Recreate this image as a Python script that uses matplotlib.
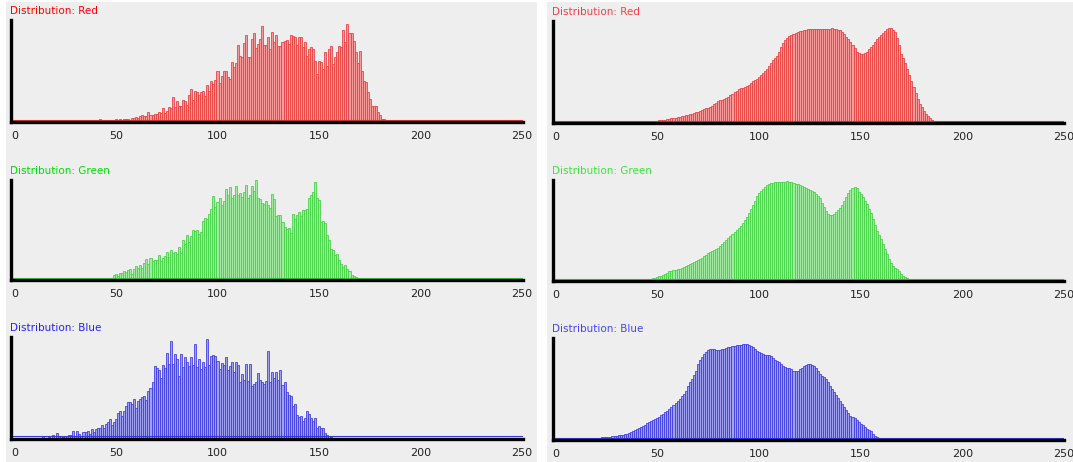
import matplotlib
matplotlib.use("Agg")
import matplotlib.pyplot as plt
from matplotlib.patches import Rectangle
import numpy as np

bins = list(range(256))
tick_values = [0, 50, 100, 150, 200, 250]

# ---- Left column (raw histograms) ----
red_raw = (
    [0, 0, 0, 0, 0, 0, 0, 0, 0, 0]
    + [0, 0, 0, 0, 0, 0, 0, 0, 0, 0]
    + [0, 0, 0, 0, 0, 0, 0, 1.5, 0, 0]
    + [0, 2, 0, 0, 0, 1, 2, 1, 0, 0]
    + [0, 0, 3, 1.5, 1, 0, 0, 1, 2, 1]
    + [2.5, 1.5, 3, 2, 3, 2.5, 3, 2, 3.5, 4]
    + [5, 4, 6, 7, 6, 6, 10, 7, 7, 8]
    + [8, 10, 9, 13, 9, 11, 14, 13, 24, 14]
    + [20, 15, 15, 21, 20, 16, 26, 32, 21, 30]
    + [29, 26, 29, 30, 25, 36, 30, 40, 37, 41]
    + [50, 38, 45, 50, 50, 44, 42, 59, 54, 58]
    + [75, 65, 64, 77, 85, 64, 64, 81, 87, 72]
    + [76, 81, 94, 75, 75, 83, 71, 88, 78, 85]
    + [74, 74, 78, 79, 80, 76, 85, 84, 83, 75]
    + [83, 83, 73, 78, 65, 71, 73, 71, 60, 47]
    + [60, 59, 52, 69, 55, 71, 74, 57, 64, 69]
    + [74, 73, 90, 78, 96, 87, 87, 79, 69, 58]
    + [70, 50, 40, 39, 29, 22, 15, 15, 15, 10]
    + [7, 3, 3, 1, 0.5, 2, 0, 0, 0, 0]
    + [0] * 66
)

green_raw = (
    [0, 0, 0, 0, 0, 0, 0, 0, 0, 0]
    + [0, 0, 0, 0, 0, 0, 0, 0, 0, 0]
    + [0, 0, 0, 0, 2, 1, 0, 0, 0, 0]
    + [0, 1, 0, 0, 0, 1.5, 0, 0, 0, 0]
    + [0, 0, 0, 0, 0, 1, 0, 1, 1, 5]
    + [6, 4, 7, 7, 9, 8, 10, 11, 6, 11]
    + [14, 12, 15, 12, 17, 21, 16, 22, 19, 20]
    + [20, 25, 19, 22, 24, 28, 23, 30, 27, 28]
    + [26, 33, 27, 40, 36, 45, 38, 44, 50, 49]
    + [50, 46, 48, 59, 62, 61, 66, 71, 84, 73]
    + [78, 82, 75, 79, 91, 85, 93, 82, 85, 94]
    + [85, 87, 83, 88, 95, 82, 85, 94, 89, 100]
    + [82, 81, 77, 76, 79, 75, 72, 86, 81, 64]
    + [65, 65, 58, 53, 51, 52, 47, 66, 61, 65]
    + [68, 64, 70, 70, 71, 82, 85, 88, 98, 82]
    + [80, 58, 59, 57, 45, 40, 31, 30, 25, 26]
    + [20, 16, 13, 15, 11, 9, 5, 4, 3, 1]
    + [1, 0.5, 1, 0, 0, 0, 0, 0, 0, 0]
    + [0] * 76
)

blue_raw = (
    [0, 0, 0, 0, 0, 0, 0, 0, 0, 0]
    + [0, 0, 0, 0, 2, 0, 0, 1, 0, 3]
    + [0, 5, 2, 2, 1, 2, 2, 3, 3, 7]
    + [2, 7, 4, 2, 6, 6, 7, 4, 9, 6]
    + [9, 10, 10, 13, 10, 14, 16, 19, 13, 16]
    + [19, 25, 27, 22, 27, 32, 36, 36, 34, 39]
    + [30, 37, 39, 41, 42, 38, 47, 50, 56, 71]
    + [69, 67, 60, 72, 69, 84, 73, 96, 73, 83]
    + [78, 62, 83, 70, 80, 75, 71, 80, 72, 93]
    + [70, 78, 68, 75, 70, 98, 72, 81, 82, 81]
    + [76, 68, 74, 72, 80, 67, 71, 75, 66, 75]
    + [72, 56, 64, 58, 73, 57, 73, 52, 54, 56]
    + [65, 58, 56, 54, 57, 86, 56, 66, 60, 66]
    + [58, 67, 53, 56, 46, 43, 42, 32, 34, 23]
    + [21, 22, 17, 20, 27, 24, 20, 17, 20, 10]
    + [12, 10, 10, 5, 3, 2, 1, 0, 0, 0]
    + [0] * 96
)

# ---- Right column (smoothed histograms) ----
red_smooth = (
    [0] * 31
    + [1.2, 1.2, 1.2, 1.3, 1.3, 1.3, 1.3, 1.4, 1.4]
    + [1.4, 1.5, 1.5, 1.5, 1.5, 1.6, 1.6, 1.7, 1.8, 2.0]
    + [2.3, 2.4, 2.6, 2.9, 3.3, 3.6, 4.0, 4.4, 4.8, 5.2]
    + [5.6, 6.0, 6.5, 7.0, 7.5, 8.0, 8.6, 9.2, 9.8, 10.4]
    + [11, 11.8, 12.6, 13.4, 14.2, 15, 16, 17, 18.5, 20]
    + [21, 22, 22.5, 23.5, 24.5, 25.5, 27, 28.5, 30, 31.5]
    + [33, 34, 34.5, 35, 36, 37, 39, 41, 42, 43.5]
    + [45, 47, 49, 51, 53, 56, 59, 62, 64, 66]
    + [70, 74, 78, 81, 83, 85, 86, 87, 88, 89]
    + [90, 90.5, 91, 91.5, 92, 92, 92, 92, 92, 92]
    + [92, 92, 92, 92, 92, 92.5, 93, 92.5, 92, 91.5]
    + [91, 89, 87, 84, 82, 79, 76, 73, 70, 69]
    + [68, 68, 69, 70, 72, 74, 76, 79, 82, 84]
    + [86, 88, 90, 92, 93, 93, 91, 89, 83, 76]
    + [68, 64, 59, 53, 47, 41, 35, 29, 23, 19]
    + [16, 12, 9, 7, 4.5, 3, 2, 1.2, 0.8, 0.5]
    + [0] * 66
)

green_smooth = (
    [0] * 20
    + [1, 1, 1, 1, 1, 1, 1, 1, 0.5, 0.5]
    + [1, 1, 1, 1, 1, 1, 1, 1, 1, 0.5]
    + [0.5, 0.5, 0.7, 1, 1.2, 1.5, 2, 2.5, 3, 3.5]
    + [4, 5, 5.5, 6.5, 7.5, 8.5, 10, 10.5, 11, 11.5]
    + [12, 12.5, 13, 14, 15, 16, 17, 18, 19, 20]
    + [21, 22, 23.5, 25, 26.5, 28, 29, 30, 31, 32]
    + [33, 35, 37, 39, 41, 43, 45, 47, 49, 51]
    + [53, 55, 58, 61, 64, 68, 72, 76, 80, 84]
    + [87, 89, 91, 93, 95, 96, 97, 97.5, 98, 98]
    + [98, 98, 98, 98.5, 99, 98.5, 98, 97, 96, 96]
    + [95, 94, 93, 92, 91, 90, 89, 88, 86, 84]
    + [82, 78, 74, 70, 67, 66, 66, 67, 69, 71]
    + [73, 76, 80, 83, 87, 90, 92, 93, 92, 88]
    + [86, 83, 80, 77, 72, 68, 62, 56, 50, 46]
    + [42, 37, 32, 27, 22, 18, 15, 13, 12, 10]
    + [7, 5, 4, 3, 1.5, 0.5, 0, 0, 0, 0]
    + [0] * 76
)

blue_smooth = (
    [0] * 15
    + [0.7, 0.8, 1, 1.2, 1.4]
    + [1.5, 1.7, 1.9, 2.1, 2.3, 2.5, 2.7, 3, 3.2, 3.5]
    + [3.8, 4.1, 4.4, 4.8, 5.3, 6, 6.6, 7.3, 8, 9]
    + [10, 11, 12, 13, 14.5, 16, 17, 18, 19, 20]
    + [21, 22, 24, 25.5, 27, 28, 30, 32, 34, 36]
    + [38, 40, 43, 45, 48, 53, 57, 60, 64, 68]
    + [74, 78, 81, 84, 86, 88, 89, 89, 89, 88]
    + [88, 88, 89, 89, 90, 91, 91, 92, 92, 93]
    + [93, 93.5, 94, 94, 94, 93, 92, 91, 89, 87]
    + [86, 85, 84, 83.5, 83, 83, 82, 80, 78, 77]
    + [76, 74, 72, 71, 70, 70, 69, 68, 68, 68]
    + [69, 70, 72, 73, 74, 74, 73, 72, 70, 68]
    + [65, 63, 62, 60, 57, 53, 50, 47, 44, 41]
    + [38, 35, 32, 29, 26, 23, 22, 21, 19, 17]
    + [15, 14, 12, 10, 9, 8, 6, 4, 2.5, 1.5]
    + [0.8, 0.5, 0, 0, 0, 0, 0, 0, 0, 0]
    + [0] * 86
)

titles = ["Distribution: Red", "Distribution: Green", "Distribution: Blue"]

W, H = 1073, 462
fig = plt.figure(figsize=(W / 100, H / 100), dpi=100, facecolor="white")

# panel backgrounds on a full-figure background axes
bg = fig.add_axes([0, 0, 1, 1], zorder=-10)
bg.set_xlim(0, W)
bg.set_ylim(H, 0)
bg.axis("off")
bg.add_patch(Rectangle((6, 2), 537 - 6, H - 2, facecolor="#eeeeee", edgecolor="none"))
bg.add_patch(Rectangle((547, 2), W - 547, H - 2, facecolor="#eeeeee", edgecolor="none"))

styles = [
    dict(face="#f89a9a", edge="#e63c3c", title_l="#ff0000", title_r="#ff3c3c"),
    dict(face="#a2eaa2", edge="#40d240", title_l="#00e000", title_r="#3ce83c"),
    dict(face="#a0a0f2", edge="#3838e0", title_l="#2222ff", title_r="#4444ff"),
]

left_rows = [(20, 121.7), (179.6, 280.3), (337, 438.5)]
right_rows = [(20.9, 122.9), (180.3, 281.3), (338, 439.6)]

columns = [
    dict(data=[red_raw, green_raw, blue_raw], x0=11, x1=522.7,
         xlim=(-1.7, 250.3), rows=left_rows, tkey="title_l"),
    dict(data=[red_smooth, green_smooth, blue_smooth], x0=552.7, x1=1064,
         xlim=(-1.4, 250.0), rows=right_rows, tkey="title_r"),
]

for col in columns:
    for r, (top, bottom) in enumerate(col["rows"]):
        st = styles[r]
        ax = fig.add_axes([col["x0"] / W, 1 - bottom / H,
                           (col["x1"] - col["x0"]) / W, (bottom - top) / H])
        ax.set_facecolor("none")
        vals = col["data"][r]
        ax.bar(bins, vals, width=1.0, color=st["face"], edgecolor=st["edge"],
               linewidth=0.55, zorder=1)
        ax.axhline(2.0, color=st["edge"], linewidth=0.8, zorder=1.5)
        ax.set_xlim(*col["xlim"])
        ax.set_ylim(0, 100)
        for s in ["top", "right"]:
            ax.spines[s].set_visible(False)
        for s in ["left", "bottom"]:
            ax.spines[s].set_linewidth(2.4)
            ax.spines[s].set_color("black")
            ax.spines[s].set_zorder(3)
        ax.set_yticks([])
        ax.set_xticks(tick_values)
        ax.set_xticklabels([str(v) for v in tick_values])
        ax.tick_params(axis="x", length=0, pad=6.5, labelsize=8, labelcolor="#222222")
        fig.text((col["x0"] - 0.5) / W, 1 - (top - 9) / H, titles[r],
                 color=st[col["tkey"]], fontsize=7.5, ha="left", va="center",
                 family="DejaVu Sans")

fig.savefig("out.png", dpi=100, facecolor="white")
